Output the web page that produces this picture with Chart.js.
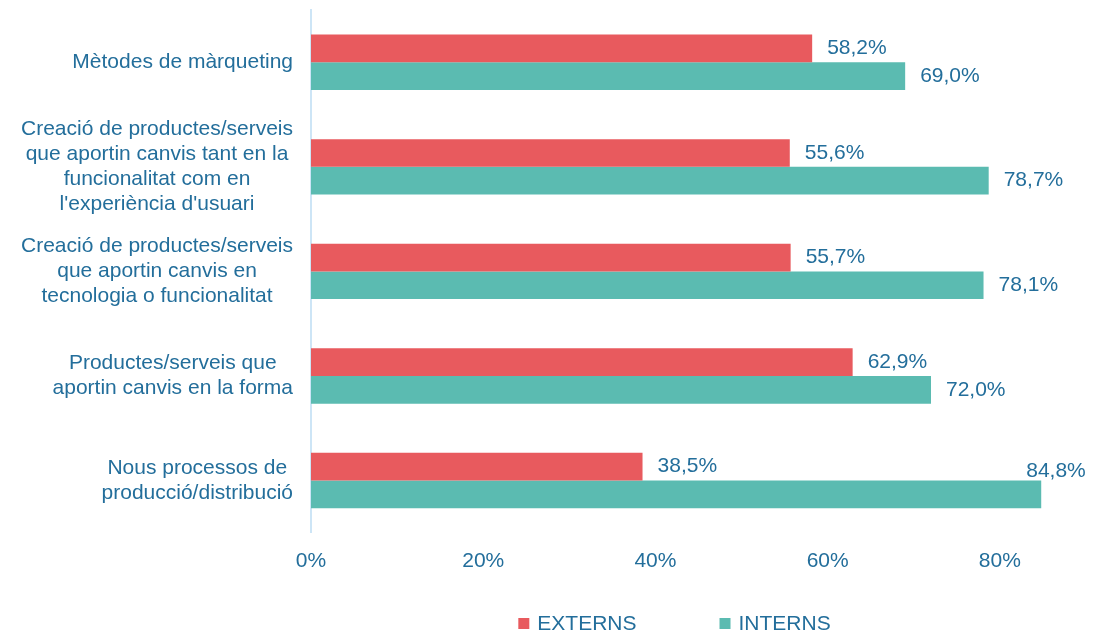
<!DOCTYPE html>
<html lang="ca">
<head>
  <meta charset="UTF-8">
  <script src="https://cdn.jsdelivr.net/npm/chart.js"></script>
  <title>Innovació</title>
  <style>
    html, body { margin: 0; padding: 0; background: #fff; }
    #wrap { width: 1105px; height: 634px; }
  </style>
</head>
<body>
<div id="wrap"><canvas id="grafic"></canvas></div>
<script>
  // categories (una línia per element)
  var categories = [
    ["Mètodes de màrqueting"],
    ["Creació de productes/serveis", "que aportin canvis tant en la", "funcionalitat com en", "l'experiència d'usuari"],
    ["Creació de productes/serveis", "que aportin canvis en", "tecnologia o funcionalitat"],
    ["Productes/serveis que", "aportin canvis en la forma"],
    ["Nous processos de", "producció/distribució"]
  ]
  var externs = [58.2, 55.6, 55.7, 62.9, 38.5]
  var interns = [69.0, 78.7, 78.1, 72.0, 84.8]
  var ticksX = [0, 20, 40, 60, 80]

  var blau = "#236E9B"
  var font = "21px 'Liberation Sans', Arial, sans-serif"

  function formatPct(v) {
    return v.toFixed(1).replace(".", ",") + "%"
  }

  // etiquetes de l'eix Y: bloc alineat a la dreta, línies centrades
  const etiquetesY = {
    id: "etiquetesY",
    afterDraw(chart) {
      const ctx = chart.ctx
      const y = chart.scales.y
      ctx.save()
      ctx.font = font
      ctx.fillStyle = blau
      ctx.textAlign = "center"
      ctx.textBaseline = "middle"
      chart.data.labels.forEach((linies, i) => {
        const cy = y.getPixelForValue(i)
        let w = 0
        linies.forEach(l => { w = Math.max(w, ctx.measureText(l).width) })
        const dreta = chart.chartArea.left - 18
        linies.forEach((l, j) => {
          ctx.fillText(l, dreta - w / 2, cy + (j - (linies.length - 1) / 2) * 25)
        })
      })
      ctx.restore()
    }
  }

  // valors al costat de les barres
  const valors = {
    id: "valors",
    afterDatasetsDraw(chart) {
      const ctx = chart.ctx
      ctx.save()
      ctx.font = font
      ctx.fillStyle = blau
      ctx.textBaseline = "middle"
      ctx.textAlign = "left"
      chart.data.datasets.forEach((ds, d) => {
        chart.getDatasetMeta(d).data.forEach((bar, i) => {
          const txt = formatPct(ds.data[i])
          const w = ctx.measureText(txt).width
          if (bar.x + 15 + w > chart.width - 10) {
            ctx.fillText(txt, bar.x - 15, bar.y - bar.height / 2 - 9)
          } else {
            ctx.fillText(txt, bar.x + 15, bar.y)
          }
        })
      })
      ctx.restore()
    }
  }

  // llegenda a sota
  const llegenda = {
    id: "llegenda",
    afterDraw(chart) {
      const ctx = chart.ctx
      ctx.save()
      ctx.font = font
      ctx.textBaseline = "middle"
      ctx.textAlign = "left"
      const items = chart.data.datasets.map(ds => ({ text: ds.label, color: ds.backgroundColor, w: 11 + 8 + ctx.measureText(ds.label).width }))
      const gap = 83
      let total = 0
      items.forEach((it, k) => { total += it.w + (k > 0 ? gap : 0) })
      let x = (chart.chartArea.left + chart.chartArea.right) / 2 - 24 - total / 2
      const cy = chart.height - 10
      items.forEach(it => {
        ctx.fillStyle = it.color
        ctx.fillRect(x, cy - 6, 11, 11)
        ctx.fillStyle = blau
        ctx.fillText(it.text, x + 19, cy)
        x += it.w + gap
      })
      ctx.restore()
    }
  }

  const ctx = document.getElementById("grafic")
  const grafic = new Chart(ctx, {
    type: "bar",
    data: {
      labels: categories,
      datasets: [{
        label: "EXTERNS",
        data: externs,
        backgroundColor: "#E85A5E",
        borderWidth: 0,
      }, {
        label: "INTERNS",
        data: interns,
        backgroundColor: "#5BBBB1",
        borderWidth: 0,
      }],
    },
    options: {
      indexAxis: "y",
      responsive: true,
      maintainAspectRatio: false,
      animation: false,
      categoryPercentage: 0.53,
      barPercentage: 1.0,
      layout: { padding: { top: 10, right: 19, bottom: 44, left: 0 } },
      plugins: {
        legend: { display: false },
        tooltip: { enabled: false },
      },
      scales: {
        x: {
          min: 0,
          max: 90,
          grid: { display: false, drawTicks: false },
          border: { display: false },
          afterBuildTicks: s => { s.ticks = ticksX.map(v => ({ value: v })) },
          ticks: {
            padding: 16,
            color: blau,
            font: { family: "'Liberation Sans', Arial, sans-serif", size: 21 },
            callback: v => v + "%",
          },
        },
        y: {
          grid: { display: false, drawTicks: false },
          border: { display: true, color: "#CDE5F6", width: 2 },
          ticks: { display: false },
          afterFit: s => { s.width = 311 },
        },
      },
    },
    plugins: [etiquetesY, valors, llegenda],
  })
</script>
</body>
</html>
